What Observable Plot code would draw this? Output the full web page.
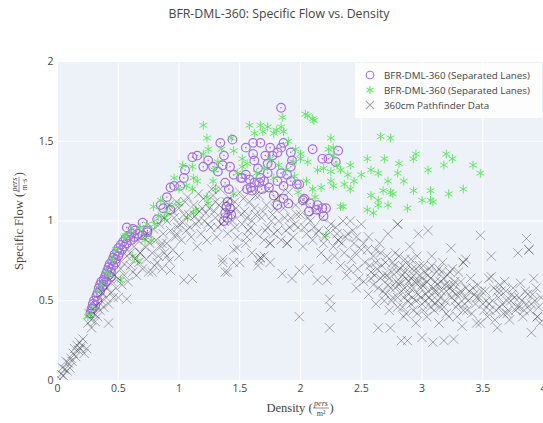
<!DOCTYPE html>
<html><head><meta charset="utf-8">
<script src="https://cdn.jsdelivr.net/npm/d3@7"></script>
<script src="https://cdn.jsdelivr.net/npm/@observablehq/plot@0.6"></script>
<style>body{margin:0;background:#fff}svg{display:block}</style>
</head><body><div id="chart"></div>
<script>
const chartTitle = "BFR-DML-360: Specific Flow vs. Density";
const seriesNames = ["BFR-DML-360 (Separated Lanes)", "BFR-DML-360 (Separated Lanes)", "360cm Pathfinder Data"];
const xTicks = [0, 0.5, 1, 1.5, 2, 2.5, 3, 3.5, 4];
const yTicks = [0, 0.5, 1, 1.5, 2];

// purple open circles: [density, specific flow]
const sepLanesCircles = [
[0.27,0.42],[0.28,0.45],[0.29,0.48],[0.3,0.5],[0.31,0.47],[0.32,0.53],[0.33,0.55],[0.34,0.58],[0.35,0.56],[0.35,0.6],[0.36,0.62],[0.37,0.59],[0.38,0.63],[0.39,0.65],[0.4,0.62],[0.4,0.67],[0.41,0.69],[0.42,0.66],[0.42,0.71],[0.43,0.73],[0.44,0.7],[0.45,0.75],[0.46,0.72],[0.46,0.77],[0.47,0.79],[0.48,0.76],[0.49,0.81],[0.5,0.78],[0.5,0.83],[0.51,0.8],[0.52,0.85],[0.53,0.82],[0.54,0.87],[0.55,0.84],[0.56,0.89],[0.57,0.86],[0.58,0.9],[0.6,0.88],[0.61,0.92],[0.63,0.9],[0.64,0.94],[0.66,0.92],[0.38,0.6],[0.44,0.68],[0.48,0.74],[0.29,0.45],[0.33,0.5],[0.44,0.65],[0.7,0.91],[0.74,0.94],
[0.57,0.96],[0.62,0.95],[0.7,0.99],[0.74,0.93],[0.82,1.01],[0.87,1.08],[0.93,1.07],[0.85,1.1],[0.9,1.15],[0.93,1.21],[0.96,1.22],[1.01,1.22],[1.04,1.27],[1.05,1.32],[1.11,1.4],[1.15,1.41],[1.2,1.34],[1.32,1.31],[1.36,1.35],[1.42,1.34],[1.37,1.41],[1.34,1.49],[1.44,1.51],[1.38,1.24],[1.41,1.2],[1.4,1.12],[1.42,1.08],[1.38,1.05],[1.4,1.02],[1.37,1.0],[1.43,1.04],[1.39,1.09],
[1.51,1.27],[1.55,1.29],[1.56,1.2],[1.59,1.21],[1.62,1.24],[1.66,1.24],[1.67,1.27],[1.73,1.3],[1.73,1.36],[1.71,1.41],[1.77,1.41],[1.81,1.43],[1.75,1.46],[1.84,1.46],[1.61,1.49],[1.55,1.46],[1.67,1.49],[1.86,1.49],[1.84,1.71],[1.81,1.25],[1.84,1.3],[1.86,1.22],[1.89,1.29],[1.92,1.34],[1.93,1.38],[1.97,1.23],[1.86,1.14],[1.9,1.11],[2.03,1.14],[2.08,1.11],[2.14,1.1],[2.13,1.07],[2.19,1.03],[2.1,1.45],[2.18,1.39],[2.23,1.39],[2.29,1.37],[2.31,1.44],[1.62,1.38],[1.61,1.42],[1.52,1.27],[1.6,1.19],[1.65,1.33],[1.7,1.25],[1.74,1.21],[1.78,1.16],[1.92,1.43],[1.99,1.23],[2.02,1.13],[2.07,1.06],[2.18,1.08],[2.21,1.08],[1.81,1.1],[1.92,1.25],[1.24,1.38],[1.28,1.34],[1.45,1.29],[1.58,1.26],[1.68,1.2],[1.76,1.35]
];

// green asterisks: [density, specific flow]
const sepLanesStars = [
[0.25,0.4],[0.27,0.41],[0.3,0.46],[0.33,0.56],[0.36,0.6],[0.4,0.68],[0.43,0.66],[0.45,0.76],[0.48,0.82],[0.52,0.63],[0.55,0.9],[0.56,0.91],[0.6,0.94],[0.62,0.78],[0.66,0.75],[0.68,0.96],[0.72,0.88],[0.77,0.88],[0.79,1.09],[0.8,0.98],[0.85,1.13],[0.88,1.02],[0.92,1.1],[0.96,1.27],[1.0,1.11],[1.03,1.35],[1.07,1.02],[1.11,1.34],[1.11,1.2],[1.12,1.27],[1.12,1.05],[1.14,1.07],[1.2,1.6],[1.23,1.52],[1.2,1.42],[1.24,1.45],[1.28,1.25],[1.29,1.32],[1.32,1.37],[1.23,1.15],[1.24,1.11],[1.45,1.44],[1.52,1.39],[1.52,1.34],[1.45,1.17],[1.62,1.55],[1.67,1.6],[1.69,1.56],[1.73,1.59],[1.78,1.55],[1.8,1.57],[1.84,1.59],[1.85,1.65],[1.86,1.56],[1.75,1.39],[1.94,1.37],[2.0,1.39],[2.04,1.67],[2.06,1.66],[2.1,1.64],[2.0,1.42],[2.06,1.37],[2.14,1.32],[2.25,1.52],[2.27,1.46],[2.23,1.45],[2.25,1.31],[2.33,1.32],[2.39,1.29],[2.44,1.25],[2.5,1.29],[2.58,1.32],[2.64,1.3],[2.72,1.25],[2.8,1.3],[2.85,1.25],[2.36,1.23],[2.27,1.22],[2.25,1.25],[2.17,1.21],[2.41,1.2],[2.68,1.19],[2.74,1.18],[2.76,1.17],[2.58,1.16],[2.93,1.19],[3.07,1.19],[3.0,1.13],[3.07,1.13],[3.22,1.17],[3.34,1.2],[2.64,1.13],[2.64,1.1],[2.72,1.1],[2.6,1.05],[2.55,1.07],[2.88,1.08],[2.35,1.09],[2.21,0.91],[2.66,1.53],[2.74,1.52],[2.95,1.42],[3.2,1.42],[3.25,1.39],[3.42,1.35],[3.48,1.3],[3.18,1.35],[3.05,1.32],[2.93,1.39],[2.81,1.36],[2.69,1.39],[2.55,1.39],[2.41,1.35],[3.09,1.12],[2.33,1.09],
[1.48,1.3],[1.56,1.36],[1.64,1.3],[1.7,1.33],[1.78,1.27],[1.82,1.35],[1.88,1.32],[1.95,1.28],[1.98,1.18],[2.05,1.25],[2.1,1.2],[2.12,1.15],[1.96,1.45],[1.9,1.5],[1.58,1.6],[1.43,1.52],[1.35,1.45],[1.3,1.2],[1.15,1.25],[1.06,1.22],[1.0,1.2],[0.9,1.05],[0.83,1.03],[0.74,0.98],[2.11,1.63],[2.3,1.35],[2.19,1.33],[2.27,1.41]
];

// grey x marks: [density, specific flow]
const pathfinderData = [
[0.02,0.01],[0.03,0.04],[0.05,0.03],[0.06,0.07],[0.08,0.06],[0.09,0.11],[0.1,0.08],[0.11,0.14],[0.12,0.12],[0.13,0.17],[0.14,0.2],[0.15,0.15],[0.16,0.22],[0.17,0.19],[0.18,0.24],[0.19,0.2],[0.2,0.22],[0.22,0.17],[0.24,0.2],[0.21,0.26],[0.07,0.12],[0.04,0.08],
[0.25,0.36],[0.26,0.42],[0.28,0.33],[0.28,0.38],[0.3,0.42],[0.31,0.37],[0.32,0.47],[0.33,0.4],[0.35,0.44],[0.36,0.5],[0.37,0.55],[0.38,0.46],[0.4,0.52],[0.41,0.58],[0.42,0.36],[0.42,0.48],[0.44,0.55],[0.45,0.62],[0.46,0.52],[0.47,0.66],[0.48,0.58],[0.5,0.64],[0.5,0.52],[0.52,0.7],[0.53,0.6],[0.55,0.73],[0.55,0.66],[0.57,0.51],[0.57,0.78],[0.58,0.62],[0.6,0.72],[0.6,0.8],[0.62,0.68],[0.63,0.84],[0.64,0.76],[0.65,0.66],[0.66,0.88],[0.67,0.74],[0.68,0.8],[0.7,0.9],[0.7,0.7],[0.72,0.84],[0.73,0.76],[0.74,0.92],[0.75,0.68],[0.76,0.86],[0.78,0.8],[0.79,0.95],[0.8,0.72],[0.81,0.88],[0.83,0.78],[0.84,0.98],[0.85,0.84],[0.86,0.7],[0.87,0.92],[0.88,0.8],[0.9,1.0],[0.9,0.86],[0.92,0.75],[0.93,0.94],[0.95,0.82],[0.96,1.02],[0.97,0.9],[0.99,0.96],[1.0,0.78],[1.0,1.08],[1.02,0.88],[1.03,0.99],[1.04,0.63],[1.05,1.12],[1.06,0.94],[1.08,1.04],[1.1,0.9],[1.11,0.64],[1.12,1.1],[1.14,0.98],[1.15,0.84],[1.17,1.06],[1.18,0.92],[1.2,1.14],[1.21,1.0],[1.23,0.88],[1.25,1.08],[1.26,0.96],[1.28,1.16],[1.3,1.02],[1.31,0.9],[1.33,1.1],[1.35,0.98],[1.36,0.76],[1.38,1.06],[1.4,0.92],[1.4,0.68],[1.42,1.14],[1.44,1.0],[1.45,0.82],[1.47,1.08],[1.48,0.9],[1.5,1.18],[1.5,0.74],[1.52,0.98],[1.54,1.06],[1.55,0.86],[1.57,0.94],[1.58,1.12],[1.6,1.0],[1.6,0.8],[1.62,1.08],[1.64,0.92],[1.65,0.72],[1.66,1.16],[1.67,0.77],[1.68,1.02],[1.7,0.88],[1.72,1.1],[1.73,0.96],[1.75,0.86],[1.75,0.74],[1.77,1.04],[1.78,0.92],[1.8,1.14],[1.82,1.0],[1.84,0.88],[1.85,0.67],[1.86,1.08],[1.88,0.94],[1.89,0.86],[1.9,1.18],[1.92,1.02],[1.93,0.64],[1.94,0.9],[1.96,1.1],[1.98,0.96],[1.99,0.69],[2.0,1.04],[2.02,0.84],[2.04,1.12],[2.05,0.92],[2.07,0.7],[2.08,1.0],[2.1,0.88],[2.12,1.06],[2.14,0.63],[2.15,0.94],[2.17,0.8],[2.18,1.02],[2.2,0.9],[2.22,0.63],[2.22,0.76],[2.24,0.51],[2.25,0.46],[2.25,0.98],[2.27,0.84],[2.3,0.92],[2.31,0.88],[2.33,0.72],[2.35,1.0],[2.36,0.8],[2.38,0.66],[2.39,0.92],[2.41,1.0],[2.42,0.76],[2.44,0.86],[2.46,0.58],[2.47,0.7],[2.5,0.98],[2.5,0.82],[2.52,0.62],[2.53,0.74],[2.55,0.82],[2.56,0.54],[2.58,0.68],[2.6,0.78],[2.6,0.6],[2.62,0.48],[2.63,0.7],[2.64,0.33],[2.65,0.86],[2.66,0.64],[2.68,0.56],[2.7,0.74],[2.72,0.92],[2.72,0.6],[2.73,0.44],[2.74,0.33],[2.75,0.68],[2.76,0.52],[2.78,0.8],[2.79,0.62],[2.8,0.98],[2.8,0.46],[2.82,0.7],[2.83,0.25],[2.83,0.56],[2.85,0.4],[2.86,0.76],[2.87,0.64],[2.88,0.25],[2.88,0.5],[2.9,0.84],[2.9,0.58],[2.92,0.7],[2.93,0.44],[2.94,0.62],[2.95,0.36],[2.96,0.78],[2.97,0.92],[2.97,0.54],[2.98,0.66],[3.0,0.27],[3.0,0.48],[3.01,0.72],[3.02,0.6],[3.04,0.4],[3.05,0.94],[3.05,0.66],[3.06,0.52],[3.08,0.78],[3.09,0.24],[3.09,0.58],[3.1,0.44],[3.12,0.68],[3.13,0.5],[3.14,0.36],[3.15,0.62],[3.17,0.74],[3.18,0.25],[3.18,0.46],[3.2,0.56],[3.21,0.66],[3.22,0.4],[3.24,0.83],[3.24,0.52],[3.26,0.26],[3.26,0.6],[3.28,0.46],[3.29,0.4],[3.3,0.68],[3.31,0.54],[3.33,0.34],[3.34,0.74],[3.35,0.48],[3.36,0.58],[3.38,0.5],[3.4,0.64],[3.41,0.42],[3.43,0.54],[3.45,0.36],[3.46,0.6],[3.48,0.91],[3.48,0.36],[3.5,0.48],[3.51,0.44],[3.52,0.56],[3.54,0.4],[3.55,0.64],[3.57,0.65],[3.57,0.78],[3.58,0.5],[3.6,0.38],[3.62,0.33],[3.62,0.56],[3.64,0.46],[3.65,0.56],[3.67,0.42],[3.68,0.62],[3.7,0.5],[3.72,0.38],[3.73,0.5],[3.75,0.58],[3.77,0.44],[3.79,0.8],[3.8,0.52],[3.81,0.61],[3.83,0.4],[3.84,0.44],[3.86,0.89],[3.87,0.54],[3.88,0.82],[3.9,0.3],[3.9,0.48],[3.92,0.64],[3.94,0.58],[3.95,0.4],[3.97,0.36],[3.98,0.52],
[0.95,1.06],[1.0,0.98],[1.07,1.15],[1.13,1.03],[1.16,1.17],[1.22,1.05],[1.27,1.2],[1.3,1.12],[1.34,1.2],[1.37,1.0],[1.43,1.05],[1.46,1.12],[1.53,1.14],[1.56,1.02],[1.63,1.16],[1.69,1.06],[1.74,1.2],[1.79,1.08],[1.83,1.16],[1.87,1.02],[1.95,0.98],[2.03,0.96],[2.11,0.96],[2.19,0.86],[2.28,0.78],[2.34,0.86],[2.4,0.7],[2.45,0.8],[2.48,0.64],[2.57,0.72],[2.61,0.66],[2.67,0.72],[2.69,0.5],[2.71,0.66],[2.74,0.58],[2.77,0.72],[2.81,0.6],[2.84,0.66],[2.85,0.52],[2.89,0.72],[2.91,0.64],[2.92,0.52],[2.95,0.7],[2.99,0.58],[3.0,0.64],[3.03,0.54],[3.06,0.7],[3.07,0.46],[3.11,0.62],[3.12,0.56],[3.15,0.52],[3.16,0.68],[3.19,0.6],[3.23,0.58],[3.25,0.7],[3.27,0.5],[3.32,0.62],[3.37,0.44],[3.39,0.56],[3.44,0.48],[3.47,0.52],[3.53,0.5],[3.56,0.44],[3.59,0.58],[3.63,0.52],[3.66,0.48],[3.69,0.56],[3.71,0.44],[3.76,0.52],[3.78,0.46],[3.82,0.5],[3.85,0.56],[3.89,0.44],[3.93,0.5],[3.96,0.46],
[0.88,1.02],[0.92,1.1],[0.98,1.12],[0.68,0.8],[0.78,0.68],[0.82,0.74],[0.9,0.78],[0.93,0.69],[0.86,0.86],[1.36,0.74],[1.38,0.68],[1.45,0.74],[1.48,0.83],[1.56,0.9],[1.66,0.75],[1.7,0.78],[1.75,0.86],[1.67,0.77],[1.89,0.86],[2.31,0.88],[2.8,0.98],[3.34,0.74],[3.36,0.76],[1.99,0.4],[2.24,0.33],[3.88,0.82],[3.95,0.4],
[2.58,0.64],[2.62,0.74],[2.64,0.58],[2.66,0.8],[2.68,0.66],[2.7,0.54],[2.71,0.78],[2.73,0.64],[2.75,0.5],[2.76,0.74],[2.78,0.58],[2.79,0.68],[2.8,0.52],[2.81,0.78],[2.82,0.62],[2.84,0.46],[2.84,0.72],[2.86,0.58],[2.86,0.68],[2.87,0.42],[2.89,0.62],[2.89,0.54],[2.91,0.76],[2.91,0.48],[2.93,0.66],[2.93,0.58],[2.95,0.5],[2.96,0.62],[2.96,0.42],[2.98,0.72],[2.99,0.52],[3.0,0.6],[3.01,0.44],[3.02,0.68],[3.03,0.5],[3.04,0.62],[3.05,0.56],[3.07,0.64],[3.08,0.5],[3.08,0.72],[3.1,0.56],[3.11,0.48],[3.13,0.6],[3.14,0.7],[3.15,0.46],[3.16,0.56],[3.18,0.64],[3.19,0.5],[3.2,0.42],[3.22,0.6],[3.23,0.68],[3.25,0.56],[3.27,0.62],[3.28,0.54],[3.3,0.48],[3.32,0.56],[3.34,0.44],[3.36,0.52],[3.42,0.58],[3.45,0.52],[3.49,0.56],[3.55,0.48],[3.61,0.44],[3.64,0.6],[3.7,0.42],[3.74,0.54],[3.8,0.46],[3.86,0.48],[3.91,0.54],
[0.98,0.92],[1.04,1.04],[1.09,0.96],[1.16,1.0],[1.19,1.08],[1.24,0.98],[1.29,1.06],[1.32,0.96],[1.39,1.12],[1.46,0.96],[1.51,1.04],[1.59,0.96],[1.63,1.04],[1.71,0.94],[1.76,1.0],[1.81,0.94],[1.91,0.96],[1.97,1.04],[2.06,1.02],[2.13,0.92],[2.23,0.94],[2.29,0.96],[2.37,0.9],[2.43,0.94],[2.46,0.9],[2.52,0.86],[2.56,0.9],[2.62,0.82]
];

const dotOpts = () => ({x: d => d[0], y: d => d[1], clip: true});

const chart = Plot.plot({
  width: 543, height: 423,
  marginLeft: 57, marginRight: 0, marginTop: 61, marginBottom: 43,
  style: {fontFamily: "'Open Sans', sans-serif", fontSize: "10px", color: "#444", background: "#fff", overflow: "visible"},
  x: {domain: [0, 4], label: null},
  y: {domain: [0, 2], label: null},
  marks: [
    Plot.frame({fill: "#edf1f8", stroke: null}),
    Plot.gridX(xTicks, {stroke: "#fff", strokeOpacity: 1, strokeWidth: 1}),
    Plot.gridY(yTicks, {stroke: "#fff", strokeOpacity: 1, strokeWidth: 1}),
    Plot.dot(sepLanesCircles, {...dotOpts(), symbol: "circle", r: 4.3, stroke: "#a66ee6", strokeWidth: 1.2, fill: "none"}),
    Plot.dot(sepLanesCircles, {...dotOpts(), symbol: "circle", r: 0.8, fill: "#a66ee6", stroke: "none"}),
    Plot.dot(sepLanesStars, {...dotOpts(), symbol: "asterisk", r: 4.2, stroke: "#56ea56", strokeWidth: 1, strokeOpacity: 0.9}),
    Plot.dot(pathfinderData, {...dotOpts(), symbol: "times", r: 4.3, stroke: "#333", strokeWidth: 0.9, strokeOpacity: 0.45}),
    Plot.axisX(xTicks, {tickSize: 0, tickPadding: 4, tickFormat: d => String(d), fill: "#444", fontSize: 10.5, label: null}),
    Plot.axisY(yTicks, {tickSize: 0, tickPadding: 4, tickFormat: d => String(d), fill: "#444", fontSize: 10.5, label: null})
  ]
});
document.getElementById("chart").append(chart);
const svg = d3.select(chart);

// title
svg.append("text").attr("x", 279).attr("y", 18).attr("text-anchor", "middle")
  .attr("font-family", "'Open Sans', sans-serif").attr("font-size", 12.3).attr("fill", "#444").text(chartTitle);

// axis titles with fractions
function mathLabel(cx, cy, angle, pre, num, den) {
  const g = svg.append("g").attr("transform", `translate(${cx},${cy}) rotate(${angle})`)
    .attr("font-family", "'Liberation Serif', 'DejaVu Serif', serif").attr("fill", "#444").attr("text-anchor", "start");
  const t1 = g.append("text").attr("font-size", 12.5).attr("text-anchor", "start").text(pre + " (");
  const tn = g.append("text").attr("font-size", 8).attr("font-style", "italic").attr("text-anchor", "middle").text(num);
  const td = g.append("text").attr("font-size", 8).attr("text-anchor", "middle").text(den);
  const t2 = g.append("text").attr("font-size", 12.5).attr("text-anchor", "start").text(")");
  const w1 = t1.node().getComputedTextLength();
  const wf = Math.max(tn.node().getComputedTextLength(), td.node().getComputedTextLength()) + 3;
  const w2 = t2.node().getComputedTextLength();
  const x0 = -(w1 + wf + w2) / 2;
  t1.attr("x", x0).attr("y", 4);
  tn.attr("x", x0 + w1 + wf / 2).attr("y", -2.5);
  g.append("line").attr("x1", x0 + w1 + 0.5).attr("x2", x0 + w1 + wf - 0.5).attr("y1", 0).attr("y2", 0)
    .attr("stroke", "#444").attr("stroke-width", 0.6);
  td.attr("x", x0 + w1 + wf / 2).attr("y", 8);
  t2.attr("x", x0 + w1 + wf).attr("y", 4);
}
mathLabel(300, 408, 0, "Density", "pers", "m²");
mathLabel(19, 221, -90, "Specific Flow", "pers", "m·s");

// legend
const lg = svg.append("g").attr("font-family", "'Open Sans', sans-serif").attr("font-size", 9.8).attr("text-anchor", "start");
lg.append("rect").attr("x", 355).attr("y", 63).attr("width", 187).attr("height", 55).attr("fill", "#fff").attr("fill-opacity", 0.85);
const legendStyles = [
  {sym: d3.symbolCircle, r: 3.8, stroke: "#a66ee6", op: 1},
  {sym: d3.symbolAsterisk, r: 3.8, stroke: "#56ea56", op: 0.9},
  {sym: d3.symbolTimes, r: 3.8, stroke: "#333", op: 0.45}
];
seriesNames.forEach((name, i) => {
  const y = 75 + i * 15;
  const s = legendStyles[i];
  lg.append("path").attr("transform", `translate(370,${y})`)
    .attr("d", d3.symbol(s.sym, s.r * s.r * Math.PI)()).attr("fill", "none")
    .attr("stroke", s.stroke).attr("stroke-opacity", s.op).attr("stroke-width", 1.1);
  lg.append("text").attr("x", 384).attr("y", y + 3.5).attr("text-anchor", "start").attr("fill", "#444").text(name);
});
</script>
</body></html>
